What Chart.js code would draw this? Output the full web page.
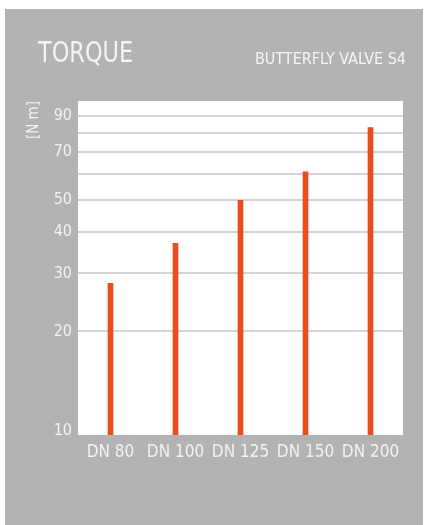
<!DOCTYPE html>
<html>
<head>
<meta charset="utf-8">
<script src="https://cdn.jsdelivr.net/npm/chart.js@4"></script>
<style>
  body { margin: 0; background: #fff; }
  #panel {
    position: absolute; left: 5px; top: 9px; width: 418px; height: 516px;
    background: #b2b3b5;
    font-family: "Liberation Sans Narrow", "DejaVu Sans Condensed", sans-serif;
    color: #f4f4f4;
  }
  #title {
    position: absolute; left: 33px; top: 26px; font-size: 29px;
    transform: scaleX(0.86); transform-origin: left top;
  }
  #subtitle { position: absolute; right: 17px; top: 40px; font-size: 16px; }
  #myChart { position: absolute; left: 0; top: 0; }
</style>
</head>
<body>
<div id="panel">
  <canvas id="myChart" width="418" height="516"></canvas>
  <div id="title">TORQUE</div>
  <div id="subtitle">BUTTERFLY VALVE S4</div>
</div>
<script>
const valvulas = ['DN 80', 'DN 100', 'DN 125', 'DN 150', 'DN 200'];
const torque = [28, 37, 50, 61, 83];
const linhas = [10, 20, 30, 40, 50, 60, 70, 80, 90];
const rotulos = [10, 20, 30, 40, 50, 70, 90];

const fonte = '"Liberation Sans Narrow", "DejaVu Sans Condensed", sans-serif';

// white plotting area behind the grid
const fundoBranco = {
    id: 'fundoBranco',
    beforeDraw(chart) {
        const a = chart.chartArea;
        chart.ctx.save();
        chart.ctx.fillStyle = '#ffffff';
        chart.ctx.fillRect(a.left, a.top, a.right - a.left, a.bottom - a.top);
        chart.ctx.restore();
    }
};

const ctx = document.getElementById('myChart');
const myChart = new Chart(ctx, {
    type: 'bar',
    data: {
        labels: valvulas,
        datasets: [{
            label: 'Torque',
            data: torque,
            backgroundColor: '#e84d1b',
            barThickness: 5
        }]
    },
    options: {
        responsive: false,
        animation: false,
        layout: { padding: { top: 92, right: 20, left: 0, bottom: 0 } },
        plugins: {
            legend: { display: false },
            tooltip: { enabled: false }
        },
        scales: {
            x: {
                grid: { display: false, drawTicks: false },
                border: { display: false },
                ticks: {
                    color: '#f2f2f2',
                    padding: 7,
                    font: { family: fonte, size: 17 }
                },
                afterFit(scale) { scale.height = 90; }
            },
            y: {
                type: 'logarithmic',
                min: 9.7,
                max: 100,
                afterBuildTicks(scale) {
                    scale.ticks = linhas.map(v => ({ value: v }));
                },
                grid: {
                    drawTicks: false,
                    lineWidth: 2,
                    color: c => (c.tick && c.tick.value === 10) ? 'rgba(0,0,0,0)' : '#d4d4d4'
                },
                border: { display: false },
                ticks: {
                    color: '#f2f2f2',
                    padding: 6,
                    autoSkip: false,
                    font: { family: fonte, size: 16 },
                    callback: v => rotulos.includes(v) ? String(v) : ''
                },
                title: {
                    display: true,
                    text: '[N m]',
                    align: 'end',
                    color: '#f2f2f2',
                    padding: { top: 20, bottom: 0 },
                    font: { family: fonte, size: 15 }
                },
                afterFit(scale) { scale.width = 73; }
            }
        }
    },
    plugins: [fundoBranco]
});
</script>
</body>
</html>
